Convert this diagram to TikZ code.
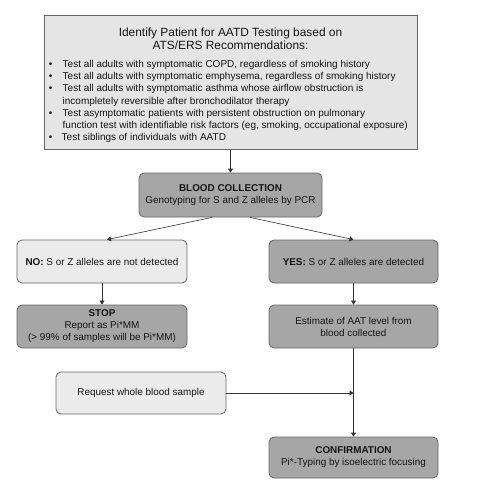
\documentclass[tikz,border=0pt]{standalone}
\usepackage{fontspec}
\setmainfont{Liberation Sans}
\usetikzlibrary{arrows.meta}
\definecolor{darkfill}{HTML}{A6A6A6}
\definecolor{lightfill}{HTML}{EBEBEB}
\definecolor{topfill}{HTML}{E5E5E5}
\definecolor{edgecol}{HTML}{666666}
\definecolor{txt}{HTML}{141414}
\newcommand{\blt}{\makebox[15.5pt][l]{\hspace{1.8pt}\textbullet}}
\newcommand{\bltgap}{\makebox[15.5pt][l]{}}
\begin{document}
\begin{tikzpicture}[x=1pt,y=-1pt,
  box/.style={draw=edgecol, line width=0.8pt, rounded corners=5pt, align=center,
    font=\fontsize{9.9}{12}\selectfont, text=txt, inner sep=0pt},
  darkbox/.style={box, fill=darkfill},
  lightbox/.style={box, fill=lightfill},
  conn/.style={draw=black!80, line width=0.6pt, -{Triangle[length=4pt,width=5pt]}}]
\useasboundingbox (0,0) rectangle (493,487);
\fill[white] (0,0) rectangle (493,487);
% top box
\node[draw=edgecol, line width=1pt, fill=topfill, minimum width=373pt, minimum height=133pt, inner sep=0pt] (top) at (230.5,82.5) {};
\node[font=\fontsize{11.9}{13.3}\selectfont, text=txt, align=center, inner sep=0pt] (title) at (230.5,38.5)
  {Identify Patient for AATD Testing based on\\ATS/ERS Recommendations:};
\node[font=\fontsize{10}{12.2}\selectfont, text=txt, align=left, anchor=north west, inner sep=0pt] (bullets) at (47,60)
  {\blt Test all adults with symptomatic COPD, regardless of smoking history\\
   \blt Test all adults with symptomatic emphysema, regardless of smoking history\\
   \blt Test all adults with symptomatic asthma whose airflow obstruction is\\
   \bltgap incompletely reversible after bronchodilator therapy\\
   \blt Test asymptomatic patients with persistent obstruction on pulmonary\\
   \bltgap function test with identifiable risk factors (eg, smoking, occupational exposure)\\
   \makebox[14.5pt][l]{\hspace{1.8pt}\textbullet}Test siblings of individuals with AATD};
% flow boxes
\node[darkbox, minimum width=183pt, minimum height=44pt] (blood) at (230.5,195)
  {\textbf{BLOOD COLLECTION}\\Genotyping for S and Z alleles by PCR};
\node[lightbox, minimum width=170pt, minimum height=43pt] (no) at (102,261.5)
  {\textbf{NO:} S or Z alleles are not detected};
\node[darkbox, minimum width=169pt, minimum height=43pt] (yes) at (353.5,261.5)
  {\textbf{YES:} S or Z alleles are detected};
\node[darkbox, minimum width=170pt, minimum height=43pt] (stop) at (102,326.5)
  {\textbf{STOP}\\Report as Pi*MM\\(> 99\% of samples will be Pi*MM)};
\node[darkbox, minimum width=169pt, minimum height=43pt] (est) at (353.5,326.5)
  {Estimate of AAT level from\\blood collected};
\node[lightbox, minimum width=170pt, minimum height=42pt] (req) at (141,393)
  {Request whole blood sample};
\node[darkbox, minimum width=169pt, minimum height=41pt] (conf) at (353.5,457.5)
  {\textbf{CONFIRMATION}\\Pi*-Typing by isoelectric focusing};
\coordinate (join) at (est.south |- req.east);
% connectors
\draw[conn] (top.south) -- (blood.north);
\draw[conn] ([xshift=-18.5pt]blood.south) -- ([xshift=5pt]no.north);
\draw[conn] ([xshift=19.5pt]blood.south) -- (yes.north);
\draw[conn] (no.south) -- (stop.north);
\draw[conn] (yes.south) -- (est.north);
\draw[conn] (est.south) -- (conf.north);
\draw[conn] (req.east) -- (join);
\end{tikzpicture}
\end{document}
